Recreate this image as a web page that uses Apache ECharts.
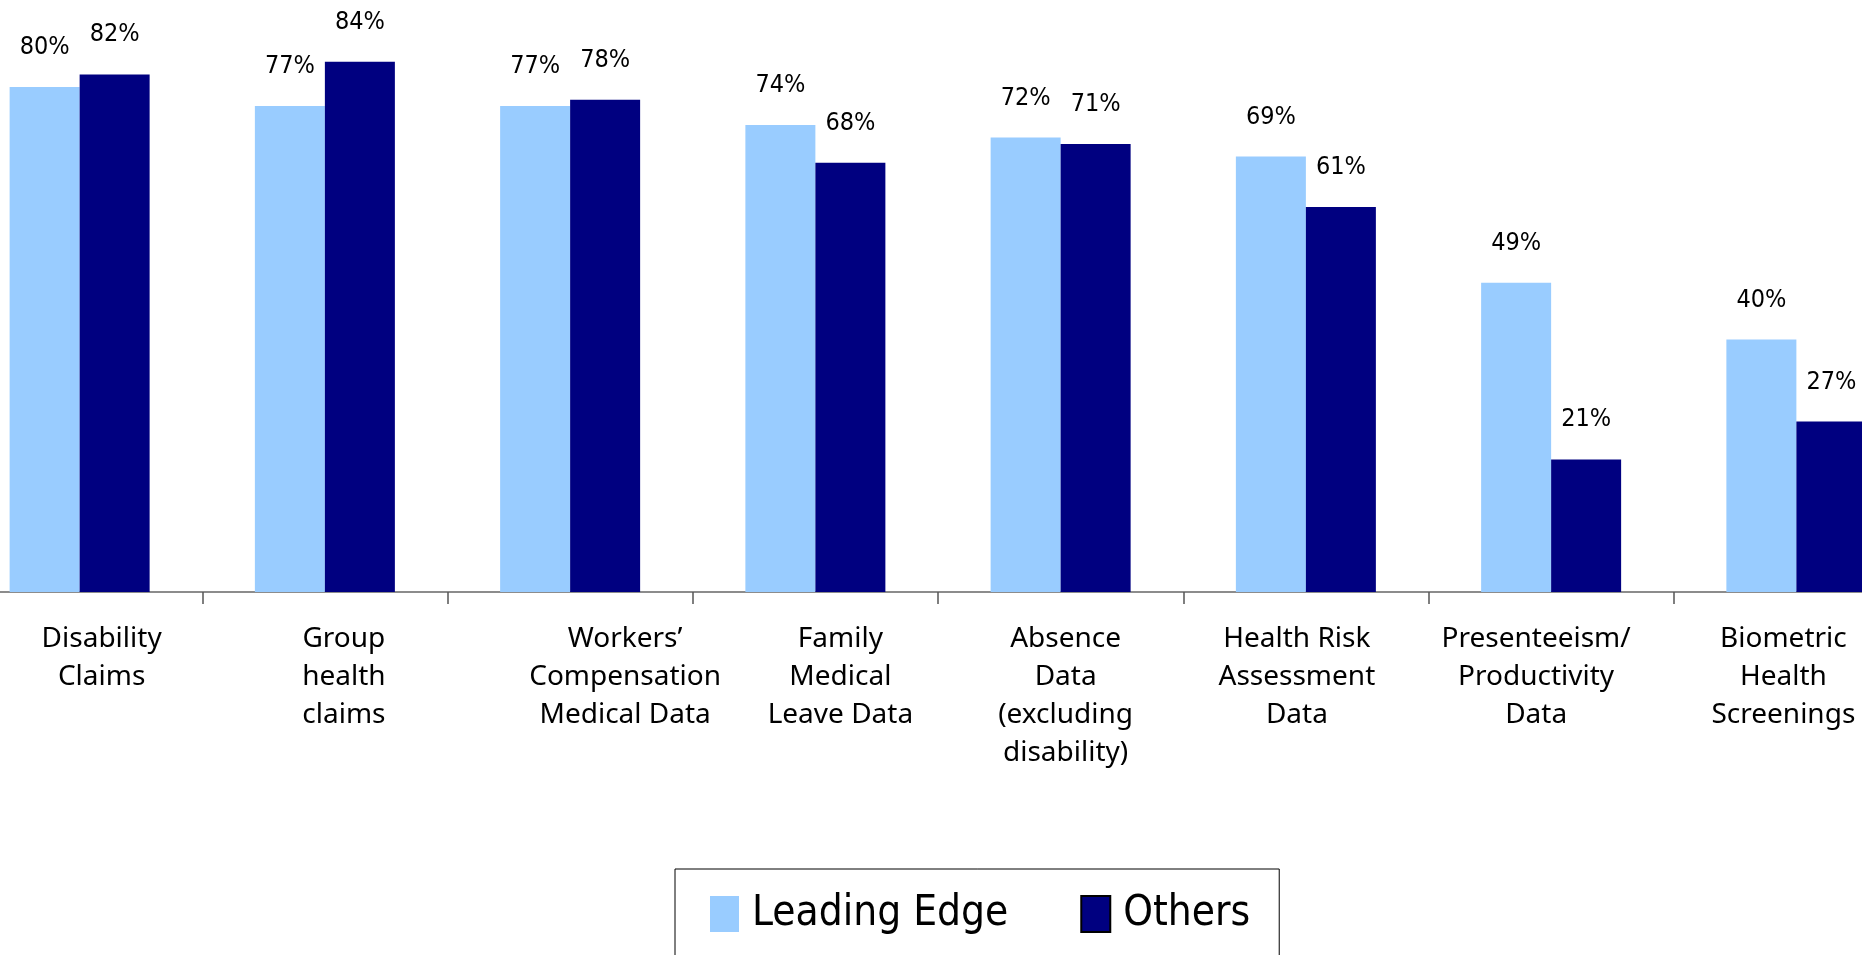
<!DOCTYPE html>
<html>
<head>
<meta charset="utf-8">
<title>Data sources</title>
<script src="https://cdn.jsdelivr.net/npm/echarts@6/dist/echarts.min.js"></script>
<style>
	html, body { margin: 0; padding: 0; background: #fff; overflow: hidden; }
	body { width: 1862px; height: 955px; position: relative; }
	/* 图表左右两端被裁掉，容器比窗口宽 */
	#main { position: absolute; left: -43px; top: 0; width: 1962px; height: 955px; }
</style>
</head>
<body>
<div id="main"></div>
<script>
	// 类目
	var categories = [ 'Disability\nClaims', 'Group\nhealth\nclaims',
			'Workers\u2019\nCompensation\nMedical Data', 'Family\nMedical\nLeave Data',
			'Absence\nData\n(excluding\ndisability)', 'Health Risk\nAssessment\nData',
			'Presenteeism/\nProductivity\nData', 'Biometric\nHealth\nScreenings' ];
	var seriesNames = [ 'Leading Edge', 'Others' ];
	var leadingEdge = [ 80, 77, 77, 74, 72, 69, 49, 40 ];
	var others = [ 82, 84, 78, 68, 71, 61, 21, 27 ];

	var narrowFont = '"Liberation Sans Narrow", "DejaVu Sans Condensed", "Arial Narrow", sans-serif';
	// 标签的水平微调（像素）
	var labelShift = [ 22, 19, 55, 25, 5, -9, -15, -13 ];

	function buildCategoryData() {
		var arr = [];
		for ( var i = 0; i < categories.length; i++) {
			var s = labelShift[i];
			arr.push({
				value : categories[i],
				textStyle : {
					padding : s >= 0 ? [ 0, 0, 0, 2 * s ] : [ 0, -2 * s, 0, 0 ]
				}
			});
		}
		return arr;
	}

	function barLabel() {
		return {
			show : true,
			position : 'top',
			distance : 27,
			formatter : '{c}%',
			fontFamily : narrowFont,
			fontSize : 25,
			color : '#000'
		};
	}

	var myChart = echarts.init(document.getElementById('main'));
	var option = {
		animation : false,
		backgroundColor : '#fff',
		grid : {
			left : 0,
			right : 0,
			top : 24,
			bottom : 363,
			containLabel : false
		},
		legend : {
			left : 718,
			top : 869,
			padding : [ 23, 29, 60, 35 ],
			borderColor : '#000',
			borderWidth : 1,
			itemWidth : 29,
			itemHeight : 36,
			itemGap : 72,
			icon : 'rect',
			textStyle : {
				fontFamily : narrowFont,
				fontSize : 42,
				lineHeight : 44,
				color : '#000',
				padding : [ 0, 0, 0, 8 ]
			},
			data : [ {
				name : seriesNames[0]
			}, {
				name : seriesNames[1],
				itemStyle : {
					borderColor : '#000',
					borderWidth : 2
				}
			} ]
		},
		xAxis : [ {
			type : 'category',
			data : buildCategoryData(),
			axisLine : {
				show : true,
				lineStyle : {
					color : '#666',
					width : 1.5
				}
			},
			axisTick : {
				show : true,
				alignWithLabel : false,
				interval : 0,
				inside : false,
				length : 12,
				lineStyle : {
					color : '#555',
					width : 1.5
				}
			},
			axisLabel : {
				interval : 0,
				margin : 28,
				fontFamily : '"Noto Sans", sans-serif',
				fontSize : 28,
				lineHeight : 38,
				color : '#000',
				align : 'center'
			}
		} ],
		yAxis : [ {
			type : 'value',
			min : 0,
			max : 90,
			show : false
		} ],
		series : [ {
			name : seriesNames[0],
			type : 'bar',
			barWidth : 70,
			barGap : '0%',
			itemStyle : {
				color : '#99CCFF'
			},
			label : barLabel(),
			data : leadingEdge
		}, {
			name : seriesNames[1],
			type : 'bar',
			barWidth : 70,
			barGap : '0%',
			itemStyle : {
				color : '#000080'
			},
			label : barLabel(),
			data : others
		} ]
	};
	myChart.setOption(option, true);
</script>
</body>
</html>
